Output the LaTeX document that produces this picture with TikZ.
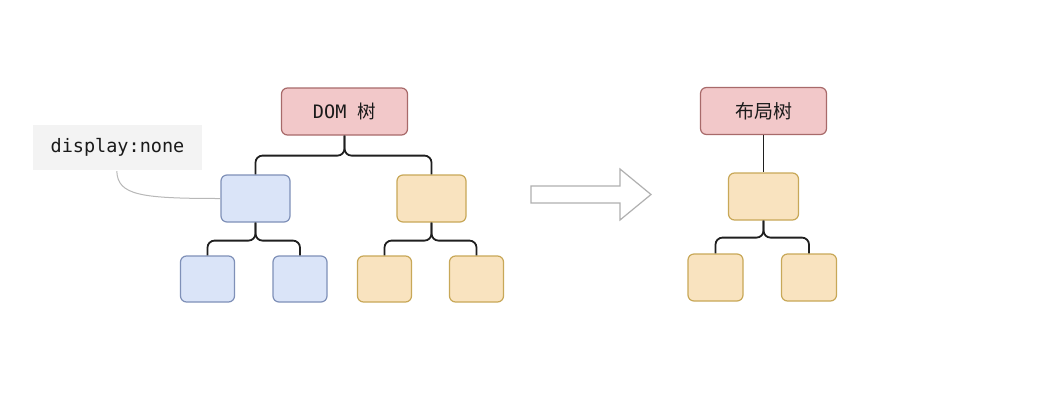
\documentclass[tikz,border=0pt]{standalone}
\usepackage{fontspec}
\newfontfamily\cjk{Noto Sans CJK SC}
\newfontfamily\monof{DejaVu Sans Mono}
\usetikzlibrary{calc}
\definecolor{pinkfill}{HTML}{F2C8C9}
\definecolor{pinkline}{HTML}{A86A6A}
\definecolor{bluefill}{HTML}{DAE4F8}
\definecolor{blueline}{HTML}{7F90B8}
\definecolor{yelfill}{HTML}{F9E3BF}
\definecolor{yelline}{HTML}{C8A858}
\definecolor{labelfill}{HTML}{F3F3F3}
\definecolor{txt}{HTML}{1A1A1A}
\definecolor{arrowline}{HTML}{B0B0B0}
\definecolor{curveline}{HTML}{B8B8B8}
\begin{document}
\begin{tikzpicture}[x=1pt,y=-1pt,
  box/.style={rounded corners=6pt, line width=1.2pt, inner sep=0pt, text=txt},
  pinkbox/.style={box, fill=pinkfill, draw=pinkline, minimum width=126pt, minimum height=47pt},
  midbox/.style={box, minimum width=69pt, minimum height=47pt},
  leafbox/.style={box, minimum width=54pt, minimum height=46pt},
  bluebox/.style={fill=bluefill, draw=blueline},
  yelbox/.style={fill=yelfill, draw=yelline},
  conn/.style={line width=1.8pt, rounded corners=7pt, draw=black!88},
  tagbox/.style={fill=labelfill, inner sep=0pt, minimum width=169pt, minimum height=45pt, text=txt},
  bigarrow/.style={draw=arrowline, line width=1.2pt, fill=white, line join=miter}
]
\fill[white] (0,0) rectangle (1044,416);
\useasboundingbox (0,0) rectangle (1044,416);

% left tree
\node[pinkbox] (dom) at (344.5,111.5) {\fontsize{18.5}{20}\selectfont\monof DOM \cjk 树};
\node[midbox, bluebox] (bm) at (255.5,198.5) {};
\node[midbox, yelbox] (ym) at (431.5,198.5) {};
\node[leafbox, bluebox] (b1) at (207.5,279) {};
\node[leafbox, bluebox] (b2) at (300,279) {};
\node[leafbox, yelbox] (y1) at (384.5,279) {};
\node[leafbox, yelbox] (y2) at (476.5,279) {};

\draw[conn] (dom.south) -- ++(0,20) -| (bm.north);
\draw[conn] (dom.south) -- ++(0,20) -| (ym.north);
\draw[conn] (bm.south) -- ++(0,18) -| (b1.north);
\draw[conn] (bm.south) -- ++(0,18) -| (b2.north);
\draw[conn] (ym.south) -- ++(0,18) -| (y1.north);
\draw[conn] (ym.south) -- ++(0,18) -| (y2.north);

% display:none label
\node[tagbox] (dn) at (117.5,147.5) {\fontsize{18.5}{20}\selectfont\monof display:none};
\coordinate (cs) at ($(dn.south west)+(84,1)$);
\draw[curveline, line width=1pt] (cs) .. controls +(1,24) and +(-80,0) .. (bm.west);

% transformation arrow
\draw[bigarrow] (531,186) -- (620,186) -- (620,169) -- (651,194.5) -- (620,220) -- (620,203) -- (531,203) -- cycle;

% right tree
\node[pinkbox] (lay) at (763.5,111) {\fontsize{19}{21}\selectfont\cjk 布局树};
\node[midbox, yelbox, minimum width=70pt] (rm) at (763.5,196.5) {};
\node[leafbox, yelbox, minimum width=55pt, minimum height=47pt] (r1) at (715.5,277.5) {};
\node[leafbox, yelbox, minimum width=55pt, minimum height=47pt] (r2) at (809,277.5) {};

\draw[conn] (lay.south) -- (rm.north);
\draw[conn] (rm.south) -- ++(0,17) -| (r1.north);
\draw[conn] (rm.south) -- ++(0,17) -| (r2.north);
\end{tikzpicture}
\end{document}
